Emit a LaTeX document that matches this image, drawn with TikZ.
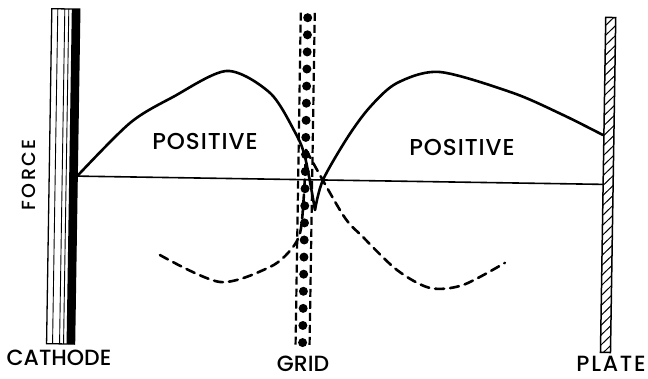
\documentclass[tikz,border=0pt]{standalone}
\usepackage{fontspec}
\setmainfont{Poppins}
\newfontfamily\lblfont{Poppins Medium}
\usetikzlibrary{positioning}
\begin{document}
\begin{tikzpicture}[x=1pt, y=-1pt,
    lbl/.style={font=\fontsize{22}{24}\lblfont, inner sep=0pt, anchor=base},
    poslbl/.style={lbl, font=\fontsize{23}{24}\lblfont\addfontfeature{LetterSpace=4}},
    curve/.style={line width=2.6pt, line cap=round, line join=round},
    dashcurve/.style={curve, dash pattern=on 9pt off 6pt}]
  \useasboundingbox (0,0) rectangle (648,379);
  \begin{scope}[rotate around={-0.9:(324,190)}]
    % cathode
    \draw[line width=1.3pt] (49,13) rectangle (77,348);
    \foreach \x in {55,62,66} \draw[line width=0.9pt] (\x,13) -- (\x,348);
    \fill (69,13) rectangle (77,348);
    % grid
    \draw[line width=2.2pt, dash pattern=on 8pt off 4pt] (298,13) -- (298,349) (312,13) -- (312,349);
    \foreach \i in {0,...,19} \fill (305,{18+17.1*\i}) circle (4.5);
    % plate
    \draw[line width=1.5pt] (603,13) rectangle (613,348);
    \begin{scope}
      \clip (603,13) rectangle (613,348);
      \foreach \y in {13,23,...,363} \draw[line width=1pt] (601,\y) -- (615,\y-14);
    \end{scope}
    % axis
    \coordinate (k) at (77,180);
    \coordinate (p) at (603,180);
    \draw[line width=1.6pt] (k) -- (p);
    % force curves
    \draw[curve] plot[smooth] coordinates {(k) (129,126) (171.5,99.4) (225,72.5) (268.5,93.8) (294,132.5) (304.5,157.3) (315.3,210.1)};
    \draw[curve] plot[smooth] coordinates {(315.3,210.1) (322.8,180) (347,136.6) (368.7,106.3) (395.3,81.9) (438,70.2) (511.5,90) (561.8,111.2) (602,130.6)};
    \draw[dashcurve] plot[smooth] coordinates {(161,257.6) (221.4,283.6) (271.2,267.8) (292,250) (301,232) (304,195) (305.4,150.3)};
    \draw[dashcurve] plot[smooth] coordinates {(305.4,150.3) (343.4,214.7) (363.7,236.4) (398.3,268.9) (431.5,286.3) (464.5,282.8) (506,260)};
  \end{scope}
  % labels
  \node[poslbl] (pos1) at (205,150) {POSITIVE};
  \node[poslbl] (pos2) at (462,156) {POSITIVE};
  \node[lbl, rotate=90, font=\fontsize{19}{22}\lblfont\addfontfeature{LetterSpace=12}] (force) at (35,175) {FORCE};
  \node[lbl] (cath) at (59,366) {CATHODE};
  \node[lbl] (grid) at (303,371) {GRID};
  \node[lbl, font=\fontsize{22}{24}\lblfont\addfontfeature{LetterSpace=8}] (plate) at (611,371) {PLATE};
\end{tikzpicture}
\end{document}
